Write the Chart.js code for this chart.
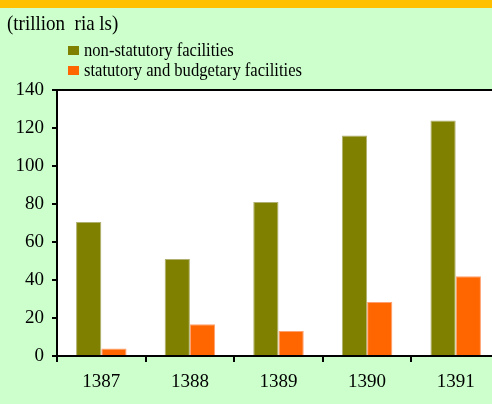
<!DOCTYPE html>
<html lang="en">
  <head>
    <meta charset="UTF-8" />
    <title>Facilities</title>
    <style>
      html, body { margin: 0; padding: 0; overflow: hidden; background: #ccffcc; }
      #wrap { position: relative; width: 492px; height: 404px; overflow: hidden; }
      #chart { position: absolute; left: 0; top: 0; }
      .txt { position: absolute; font-family: 'Liberation Serif', serif; color: #000; white-space: pre; line-height: 1; }
      .sw { position: absolute; width: 11px; height: 9px; }
    </style>
  </head>
  <script src="https://cdn.jsdelivr.net/npm/chart.js@4/dist/chart.umd.min.js"></script>
  <body>
    <div id="wrap">
      <canvas id="chart" width="500" height="404"></canvas>
      <div class="txt" style="left:7px; top:12px; font-size:19px; transform: scaleY(1.1); transform-origin: left top;">(trillion  ria ls)</div>
      <div id="legend"></div>
    </div>
    <script>
      const years = ['1387', '1388', '1389', '1390', '1391'];
      const nonStatutory = [70.5, 51, 81, 116, 124];
      const statutory = [4, 16.7, 13.2, 28.4, 42];
      const seriesNames = ['non-statutory facilities', 'statutory and budgetary facilities'];
      const yTicks = [0, 20, 40, 60, 80, 100, 120, 140];

      const oliveColor = '#808000';
      const orangeColor = '#ff6600';

      // legend as plain text
      const legend = document.getElementById('legend');
      [oliveColor, orangeColor].forEach((c, i) => {
        const top = 46 + i * 20;
        legend.innerHTML +=
          '<div class="sw" style="left:68px; top:' + top + 'px; background:' + c + '"></div>' +
          '<div class="txt" style="left:84px; top:' + (top - 4) + 'px; font-size:16.6px; transform: scaleY(1.1); transform-origin: left top;">' + seriesNames[i] + '</div>';
      });

      const backdrop = {
        id: 'backdrop',
        beforeDraw(chart) {
          const { ctx, chartArea } = chart;
          ctx.save();
          ctx.fillStyle = '#ccffcc';
          ctx.fillRect(0, 0, chart.width, chart.height);
          ctx.fillStyle = '#ffc000';
          ctx.fillRect(0, 0, chart.width, 8);
          ctx.fillStyle = '#ffffff';
          ctx.fillRect(chartArea.left, chartArea.top, chartArea.right - chartArea.left, chartArea.bottom - chartArea.top);
          ctx.restore();
        },
        afterDraw(chart) {
          const { ctx, chartArea } = chart;
          ctx.save();
          ctx.strokeStyle = '#000';
          ctx.lineWidth = 2;
          ctx.beginPath();
          ctx.moveTo(chartArea.left - 1, chartArea.top);
          ctx.lineTo(chartArea.right, chartArea.top);
          ctx.stroke();
          ctx.restore();
        }
      };

      new Chart(document.getElementById('chart').getContext('2d'), {
        type: 'bar',
        data: {
          labels: years,
          datasets: [
            {
              label: seriesNames[0],
              data: nonStatutory,
              backgroundColor: oliveColor,
              borderColor: '#b0b070',
              borderWidth: 1,
              categoryPercentage: 0.57,
              barPercentage: 1.0
            },
            {
              label: seriesNames[1],
              data: statutory,
              backgroundColor: orangeColor,
              borderColor: '#ffa070',
              borderWidth: 1,
              categoryPercentage: 0.57,
              barPercentage: 1.0
            }
          ]
        },
        options: {
          responsive: false,
          animation: false,
          layout: { padding: { top: 90, right: 0, left: 0, bottom: 0 } },
          plugins: {
            legend: { display: false },
            tooltip: { enabled: false }
          },
          scales: {
            x: {
              offset: true,
              grid: {
                offset: true,
                drawOnChartArea: false,
                color: '#000',
                tickLength: 6,
                lineWidth: 2
              },
              border: { color: '#000', width: 2 },
              ticks: {
                color: '#000',
                padding: 9,
                font: { family: 'Liberation Serif', size: 19 }
              },
              afterFit(axis) { axis.height = 48; }
            },
            y: {
              min: 0,
              max: 140,
              afterBuildTicks(axis) { axis.ticks = yTicks.map((v) => ({ value: v })); },
              grid: {
                drawOnChartArea: false,
                color: '#000',
                tickLength: 5,
                lineWidth: 2
              },
              border: { color: '#000', width: 2 },
              ticks: {
                color: '#000',
                padding: 8,
                font: { family: 'Liberation Serif', size: 19 }
              },
              afterFit(axis) { axis.width = 57; }
            }
          }
        },
        plugins: [backdrop]
      });
    </script>
  </body>
</html>
